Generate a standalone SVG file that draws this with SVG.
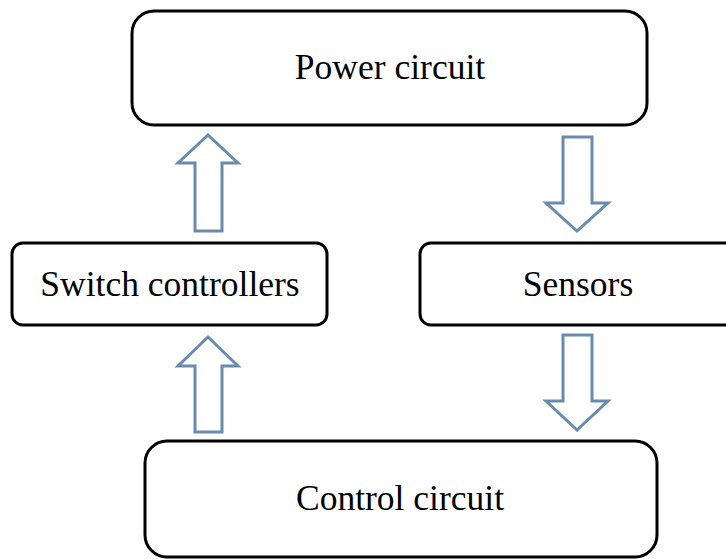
<svg xmlns="http://www.w3.org/2000/svg" width="726" height="559" viewBox="0 0 726 559">
<style>
.box{fill:#fff;stroke:#000;stroke-width:3}
.lbl{font-family:'Liberation Serif','Times New Roman',Times,serif;font-size:35.5px;fill:#000;text-anchor:middle}
.arr{fill:#fff;stroke:#6a8bb0;stroke-width:3;stroke-linejoin:miter}
</style>
<rect width="726" height="559" fill="#fff"/>
<g id="connectors">
<polygon class="arr" points="195,231 222,231 222,163 238,163 208,135 178,163 195,163"/>
<polygon class="arr" points="195,432 222,432 222,366 238,366 208,337 178,366 195,366"/>
<polygon class="arr" points="563,137 592,137 592,203 608,203 577,231 546,203 563,203"/>
<polygon class="arr" points="563,335 592,335 592,401 608,401 577,430 546,401 563,401"/>
</g>
<g id="power">
<rect class="box" x="132" y="11" width="515" height="114" rx="22"/>
<text class="lbl" x="390" y="79">Power circuit</text>
</g>
<g id="switch">
<rect class="box" x="12" y="243" width="315" height="82" rx="11"/>
<text class="lbl" x="170" y="296">Switch controllers</text>
</g>
<g id="sensors">
<rect class="box" x="420" y="243" width="316" height="82" rx="11"/>
<text class="lbl" x="578" y="296">Sensors</text>
</g>
<g id="control">
<rect class="box" x="145" y="441" width="512" height="116" rx="22"/>
<text class="lbl" x="400" y="510">Control circuit</text>
</g>
</svg>
